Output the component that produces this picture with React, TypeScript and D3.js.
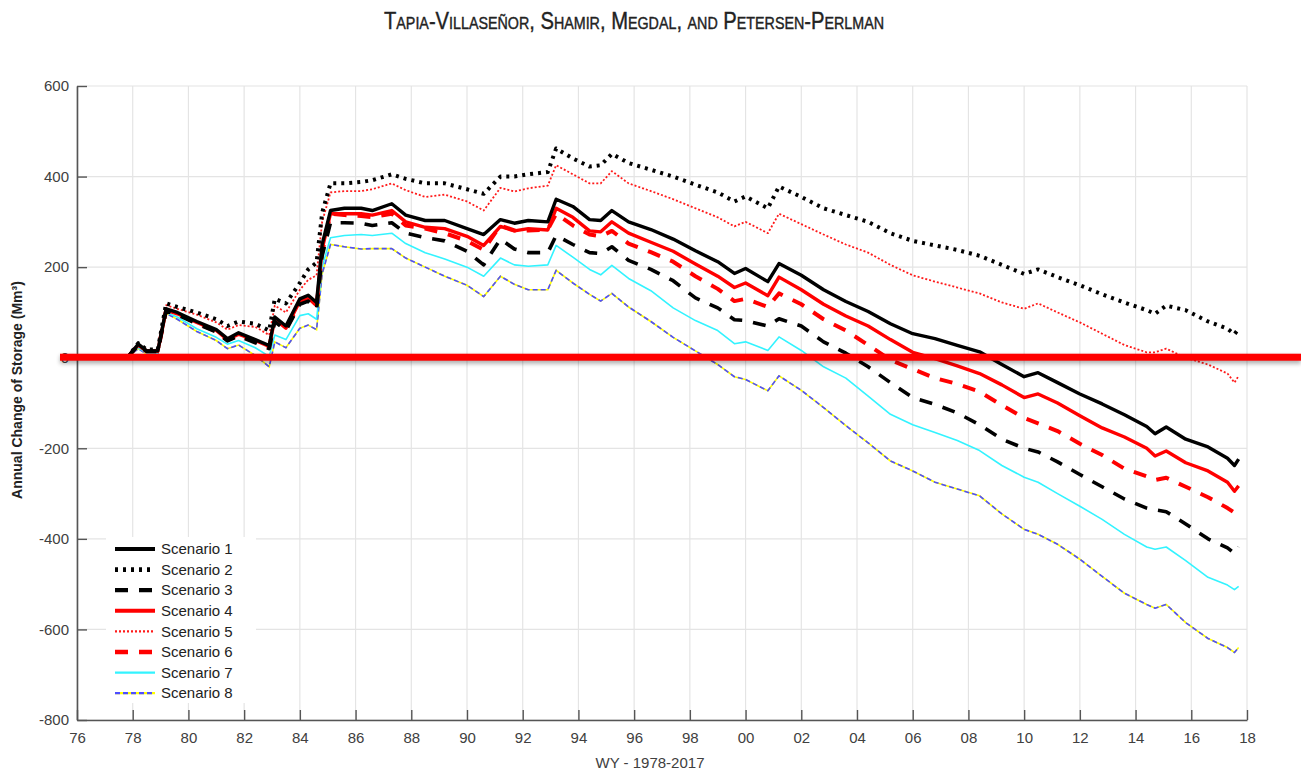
import * as d3 from "d3";
import { useEffect, useRef } from "react";

// water years (decimal) shared by all scenarios
const years = [
  1977.8, 1978.2, 1978.5, 1978.9, 1979.2, 1979.6, 1980.3, 1981.0, 1981.4, 1981.8,
  1982.4, 1982.9, 1983.1, 1983.5, 1984.0, 1984.3, 1984.6, 1984.8, 1985.1, 1985.6,
  1986.2, 1986.6, 1987.3, 1987.8, 1988.5, 1989.2, 1990.0, 1990.6, 1991.2, 1991.7,
  1992.2, 1992.9, 1993.2, 1993.8, 1994.4, 1994.8, 1995.2, 1995.8, 1996.6, 1997.4,
  1998.2, 1999.0, 1999.6, 2000.0, 2000.8, 2001.2, 2002.0, 2002.8, 2003.6, 2004.4,
  2005.2, 2006.0, 2006.8, 2007.6, 2008.4, 2009.2, 2010.0, 2010.5, 2011.2, 2012.0,
  2012.8, 2013.6, 2014.4, 2014.7, 2015.1, 2015.8, 2016.6, 2017.3, 2017.55, 2017.7,
];

// annual change of storage (Mm3)
const scenario1 = [
  0, 30, 15, 15, 108, 100, 80, 62, 42, 55,
  40, 27, 90, 70, 130, 138, 122, 250, 325, 330,
  330, 325, 340, 315, 303, 303, 285, 272, 305, 297,
  303, 300, 350, 334, 305, 303, 325, 300, 283, 262,
  236, 212, 186, 197, 168, 208, 182, 150, 124, 102,
  75, 53, 42, 27, 13, -15, -42, -33, -55, -80,
  -102, -126, -152, -168, -153, -180, -197, -222, -238, -224,
];
const scenario2 = [
  0, 32, 18, 18, 120, 112, 100, 85, 70, 80,
  75, 60, 130, 120, 165, 195, 210, 320, 385, 385,
  388, 392, 405, 395, 385, 385, 372, 362, 400, 400,
  405, 410, 462, 440, 422, 425, 450, 430, 415, 400,
  382, 365, 345, 356, 330, 378, 355, 330, 315, 300,
  275, 258, 248, 238, 225, 205, 185, 195, 178, 160,
  140, 122, 105, 97, 115, 105, 80, 64, 52, 64,
];
const scenario3 = [
  0, 28, 14, 14, 104, 95, 75, 57, 37, 48,
  33, 20, 80, 60, 118, 125, 108, 225, 298, 298,
  297, 292, 298, 275, 265, 258, 235, 205, 262, 240,
  232, 232, 270, 250, 232, 230, 245, 215, 195, 170,
  132, 110, 84, 82, 70, 86, 70, 35, 10, -20,
  -55, -88, -103, -122, -148, -180, -200, -208, -230, -258,
  -285, -312, -332, -336, -340, -367, -400, -420, -432, -418,
];
const scenario4 = [
  0, 28, 14, 14, 105, 97, 78, 60, 40, 52,
  38, 25, 85, 65, 125, 132, 115, 240, 318, 318,
  318, 315, 325, 300, 288, 285, 268, 248, 290, 280,
  285, 282, 330, 310, 280, 278, 300, 275, 255, 235,
  207, 180, 155, 165, 137, 178, 150, 118, 92, 70,
  40, 12, -2, -18, -35, -60, -88, -80, -100, -128,
  -155, -175, -200, -217, -206, -232, -250, -275, -295, -283,
];
const scenario5 = [
  0, 30, 17, 17, 116, 108, 95, 78, 62, 72,
  68, 50, 115, 100, 150, 172, 182, 300, 365, 368,
  368, 372, 385, 370, 355, 360, 345, 325, 375, 367,
  374, 380, 425, 405, 385, 385, 412, 385, 368, 350,
  330, 310, 290, 300, 275, 318, 295, 272, 250, 232,
  205, 182, 168, 155, 142, 122, 108, 120, 100, 78,
  53, 28, 12, 12, 20, 0, -15, -35, -55, -40,
];
const scenario6 = [
  0, 28, 14, 14, 105, 96, 77, 58, 39, 50,
  36, 23, 83, 63, 122, 128, 112, 232, 318, 315,
  313, 310, 318, 292, 285, 275, 258, 238, 292, 281,
  281, 283, 318, 292, 272, 268, 280, 252, 233, 212,
  180, 152, 125, 130, 112, 142, 118, 85, 60, 28,
  -5, -25, -45, -58, -75, -105, -133, -145, -162, -190,
  -215, -245, -262, -270, -265, -285, -308, -332, -342, -338,
];
const scenario7 = [
  0, 22, 10, 10, 100, 90, 64, 45, 30, 38,
  22, 3, 50, 40, 93, 97, 85, 200, 265, 270,
  272, 270, 275, 252, 232, 218, 200, 180, 220, 205,
  202, 205, 248, 222, 195, 183, 204, 175, 148, 110,
  82, 60, 31, 35, 16, 46, 16, -20, -45, -85,
  -125, -148, -165, -183, -205, -238, -264, -275, -300, -328,
  -357, -390, -418, -423, -418, -448, -485, -502, -512, -505,
];
const scenario8 = [
  0, 20, 8, 8, 98, 85, 58, 38, 20, 28,
  5, -20, 35, 22, 65, 72, 62, 185, 250, 245,
  240, 241, 241, 220, 200, 180, 160, 135, 180, 162,
  150, 150, 193, 165, 140, 125, 142, 112, 80, 45,
  15, -15, -42, -48, -73, -40, -72, -110, -150, -188,
  -228, -250, -275, -290, -305, -345, -379, -390, -412, -445,
  -483, -520, -545, -553, -545, -585, -620, -640, -651, -640,
];

const scenarioNames = [
  "Scenario 1", "Scenario 2", "Scenario 3", "Scenario 4",
  "Scenario 5", "Scenario 6", "Scenario 7", "Scenario 8",
];
const xTickYears = [
  1976, 1978, 1980, 1982, 1984, 1986, 1988, 1990, 1992, 1994, 1996,
  1998, 2000, 2002, 2004, 2006, 2008, 2010, 2012, 2014, 2016, 2018,
];
const yTickValues = [-800, -600, -400, -200, 0, 200, 400, 600];

// line styles per scenario
const styles = [
  { color: "#000000", width: 3.4, dash: null },
  { color: "#000000", width: 4, dash: "3,5" },
  { color: "#000000", width: 3.6, dash: "13,11" },
  { color: "#ff0000", width: 3.4, dash: null },
  { color: "#ff1a1a", width: 1.8, dash: "2,2" },
  { color: "#ff0000", width: 4, dash: "13,11" },
  { color: "#33f3ff", width: 1.6, dash: null },
  { color: "#4d4dff", width: 1.6, dash: "5,3", under: "#ffff00" },
];

const W = 1301;
const H = 771;

export default function App() {
  const ref = useRef<SVGSVGElement>(null);

  useEffect(() => {
    const svg = d3.select(ref.current);
    svg.selectAll("*").remove();

    const series = [
      scenario1, scenario2, scenario3, scenario4,
      scenario5, scenario6, scenario7, scenario8,
    ];

    const x = d3.scaleLinear().domain([1976, 2018]).range([77, 1247]);
    const y = d3.scaleLinear().domain([-800, 600]).range([720, 86]);

    svg.append("rect").attr("width", W).attr("height", H).attr("fill", "#fff");

    // title
    svg
      .append("text")
      .attr("x", 634)
      .attr("y", 29)
      .attr("text-anchor", "middle")
      .attr("font-family", "Liberation Sans Narrow, Arial Narrow, Liberation Sans, Arial, sans-serif")
      .attr("font-size", 24)
      .attr("font-variant", "small-caps")
      .attr("textLength", 500)
      .attr("lengthAdjust", "spacingAndGlyphs")
      .attr("stroke", "#222")
      .attr("stroke-width", 0.4)
      .attr("fill", "#222")
      .text("Tapia-Villaseñor, Shamir, Megdal, and Petersen-Perlman");

    // grid
    const grid = svg.append("g").attr("stroke", "#e4e4e4").attr("stroke-width", 1.2);
    xTickYears.forEach((t) => {
      grid.append("line").attr("x1", x(t)).attr("x2", x(t)).attr("y1", y(600)).attr("y2", y(-800));
    });
    yTickValues.forEach((t) => {
      grid.append("line").attr("x1", x(1976)).attr("x2", x(2018)).attr("y1", y(t)).attr("y2", y(t));
    });

    // axes
    const xAxis = svg
      .append("g")
      .attr("transform", "translate(0," + y(-800) + ")")
      .call(
        d3
          .axisBottom(x)
          .tickValues(xTickYears)
          .tickFormat((d: any) => String(d % 100).padStart(2, "0"))
          .tickSizeInner(-10)
          .tickSizeOuter(0)
          .tickPadding(12)
      );
    const yAxis = svg
      .append("g")
      .attr("transform", "translate(" + x(1976) + ",0)")
      .call(
        d3
          .axisLeft(y)
          .tickValues(yTickValues)
          .tickFormat((d: any) => String(d))
          .tickSizeInner(-10)
          .tickSizeOuter(0)
          .tickPadding(8)
      );
    [xAxis, yAxis].forEach((g) => {
      g.select(".domain").attr("stroke", "#555").attr("stroke-width", 1.6);
      g.selectAll(".tick line").attr("stroke", "#555").attr("stroke-width", 1.4);
      g.selectAll(".tick text")
        .attr("font-family", "Liberation Sans, Arial, sans-serif")
        .attr("font-size", 15)
        .attr("fill", "#404040");
    });

    // lines
    const line = d3
      .line<number>()
      .x((d, i) => x(years[i]))
      .y((d) => y(d));

    const lines = svg.append("g").attr("fill", "none");
    for (let k = series.length - 1; k >= 0; k--) {
      const s = styles[k] as any;
      if (s.under) {
        lines
          .append("path")
          .attr("d", line(series[k]))
          .attr("stroke", s.under)
          .attr("stroke-width", s.width);
      }
      const p = lines
        .append("path")
        .attr("d", line(series[k]))
        .attr("stroke", s.color)
        .attr("stroke-width", s.width)
        .attr("stroke-linejoin", "round");
      if (s.dash) p.attr("stroke-dasharray", s.dash);
    }

    // y label
    svg
      .append("text")
      .attr("transform", "translate(22,390) rotate(-90)")
      .attr("text-anchor", "middle")
      .attr("font-family", "Liberation Sans, Arial, sans-serif")
      .attr("font-weight", "bold")
      .attr("font-size", 14)
      .attr("fill", "#222")
      .text("Annual Change of Storage (Mm³)");

    // x label
    svg
      .append("text")
      .attr("x", 650)
      .attr("y", 768)
      .attr("text-anchor", "middle")
      .attr("font-family", "Liberation Sans, Arial, sans-serif")
      .attr("font-size", 15)
      .attr("fill", "#404040")
      .text("WY - 1978-2017");

    // legend
    const leg = svg.append("g");
    leg.append("rect").attr("x", 106).attr("y", 537).attr("width", 150).attr("height", 166).attr("fill", "#fff");
    scenarioNames.forEach((name, i) => {
      const s = styles[i] as any;
      const ly = 549 + i * 20.6;
      if (s.under) {
        leg.append("line").attr("x1", 115).attr("x2", 155).attr("y1", ly).attr("y2", ly)
          .attr("stroke", s.under).attr("stroke-width", s.width + 0.6);
      }
      const l = leg
        .append("line")
        .attr("x1", 115)
        .attr("x2", 155)
        .attr("y1", ly)
        .attr("y2", ly)
        .attr("stroke", s.color)
        .attr("stroke-width", s.width + 0.6);
      if (s.dash) l.attr("stroke-dasharray", s.dash);
      leg
        .append("text")
        .attr("x", 161)
        .attr("y", ly)
        .attr("dy", "0.35em")
        .attr("font-family", "Liberation Sans, Arial, sans-serif")
        .attr("font-size", 15)
        .attr("fill", "#222")
        .text(name);
    });

    // highlighted zero line with soft shadow
    const defs = svg.append("defs");
    const f = defs
      .append("filter")
      .attr("id", "zblur")
      .attr("filterUnits", "userSpaceOnUse")
      .attr("x", 0)
      .attr("y", y(0) - 20)
      .attr("width", W)
      .attr("height", 40);
    f.append("feGaussianBlur").attr("stdDeviation", 2.2);
    svg
      .append("rect")
      .attr("x", 60)
      .attr("y", y(0) - 2)
      .attr("width", W - 60)
      .attr("height", 8)
      .attr("fill", "#000")
      .attr("opacity", 0.3)
      .attr("filter", "url(#zblur)");
    svg
      .append("rect")
      .attr("x", 60)
      .attr("y", y(0) - 4)
      .attr("width", W - 60)
      .attr("height", 7)
      .attr("fill", "#ff0000");
  }, []);

  return (
    <svg
      ref={ref}
      width={W}
      height={H}
      style={{ position: "absolute", left: 0, top: 0 }}
    />
  );
}
